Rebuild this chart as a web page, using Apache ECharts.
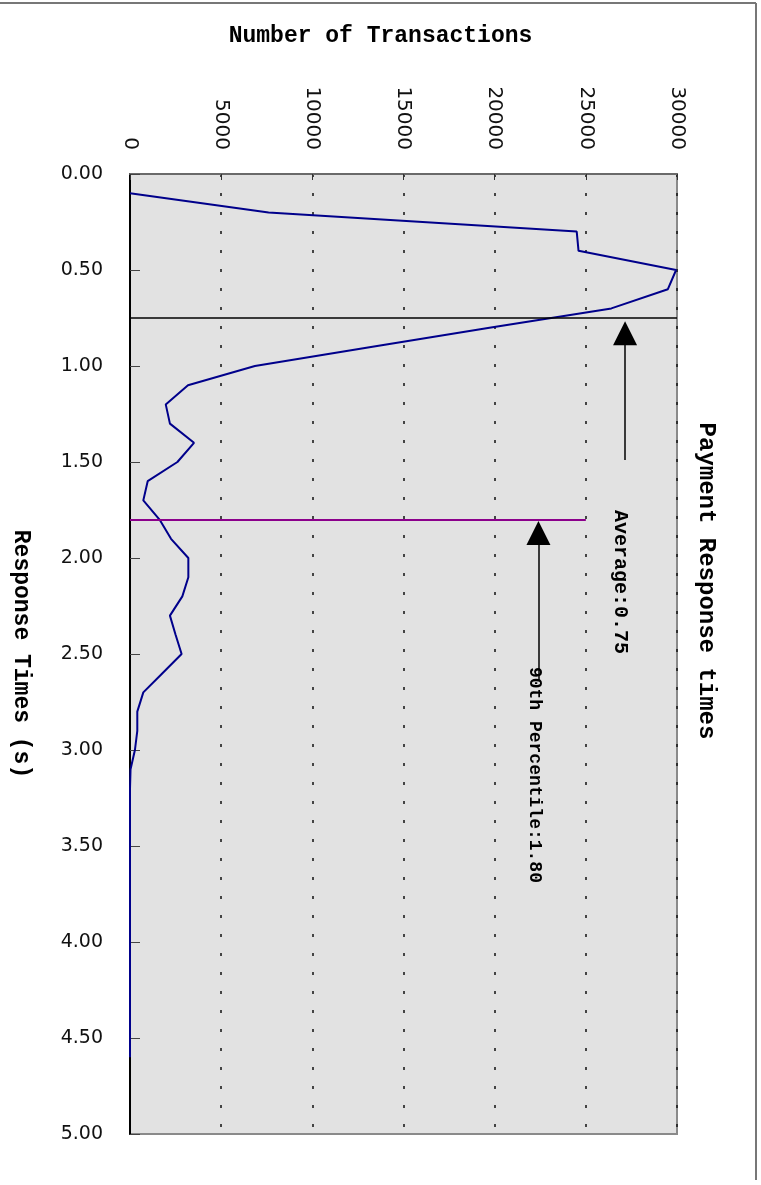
<!DOCTYPE html>
<html>
<head>
<meta charset="utf-8">
<script src="https://cdn.jsdelivr.net/npm/echarts@6/dist/echarts.min.js"></script>
<style>
html,body{margin:0;padding:0;background:#fff;}
#chart{width:761px;height:1185px;}
</style>
</head>
<body>
<div id="chart"></div>
<script>
// Response time buckets (s)
const responseTimes = [0.1,0.2,0.3,0.4,0.5,0.6,0.7,0.8,0.9,1.0,
  1.1,1.2,1.3,1.4,1.5,1.6,1.7,1.8,1.9,2.0,
  2.1,2.2,2.3,2.4,2.5,2.6,2.7,2.8,2.9,3.0,
  3.1,3.2,3.3,3.4,3.5,3.6,3.7,3.8,3.9,4.0,
  4.1,4.2,4.3,4.4,4.5,4.6];
// Number of transactions per bucket
const transactions = [0,7600,24500,24600,29950,29500,26400,19800,13300,6850,
  3180,1960,2190,3510,2600,970,730,1620,2250,3200,
  3200,2870,2190,2500,2830,1780,730,400,400,270,
  30,0,0,0,0,0,0,0,0,0,
  0,0,0,0,0,0];
const averageTime = 0.75;
const percentile90 = 1.80;
const xTicks = [0,5000,10000,15000,20000,25000,30000];
const yTicks = [0,0.5,1,1.5,2,2.5,3,3.5,4,4.5,5];

const chart = echarts.init(document.getElementById('chart'), null, {renderer:'canvas'});
const seriesData = responseTimes.map((t,i)=>[transactions[i], t]);
const mono = '"Liberation Mono", "Courier New", monospace';
const sans = '"DejaVu Sans", sans-serif';

const option = {
  backgroundColor:'#ffffff',
  animation:false,
  grid:{left:130, right:84, top:174, bottom:51, show:true, backgroundColor:'#e2e2e2', borderColor:'#8a8a8a', borderWidth:2},
  xAxis:{
    type:'value', position:'top', min:xTicks[0], max:xTicks[xTicks.length-1], interval:5000,
    name:'Number of Transactions', nameLocation:'middle', nameGap:126,
    nameTextStyle:{fontFamily:mono, fontWeight:'bold', fontSize:23, color:'#000', padding:[0,46,0,0]},
    axisLine:{show:true, lineStyle:{color:'#6a6a6a', width:2}},
    axisTick:{show:true, inside:true, length:6, lineStyle:{color:'#333'}},
    axisLabel:{rotate:-90, margin:24, fontFamily:sans, fontSize:20, color:'#111', formatter:v=>String(v)},
    splitLine:{show:true, lineStyle:{color:'#111', type:[3,16], width:1.5}}
  },
  yAxis:{
    type:'value', inverse:true, min:yTicks[0], max:yTicks[yTicks.length-1], interval:0.5,
    name:'Response Times (s)', nameLocation:'middle', nameGap:98, nameRotate:-90,
    nameTextStyle:{fontFamily:mono, fontWeight:'bold', fontSize:23, color:'#000', padding:[0,0,0,0]},
    axisLine:{show:true, lineStyle:{color:'#000', width:2}},
    axisTick:{show:true, inside:true, length:10, lineStyle:{color:'#444'}},
    axisLabel:{margin:27, fontFamily:sans, fontSize:19, color:'#111', formatter:v=>v.toFixed(2)},
    splitLine:{show:false}
  },
  series:[
    {
      type:'line', data:seriesData, symbol:'none', z:3,
      lineStyle:{color:'#00008b', width:2},
      markLine:{
        silent:true, symbol:'none', animation:false,
        label:{show:false},
        lineStyle:{type:'solid'},
        data:[
          [{coord:[0, averageTime], lineStyle:{color:'#000', width:1.5, type:'solid'}}, {coord:[30000, averageTime]}],
          [{coord:[0, percentile90], lineStyle:{color:'#8b008b', width:2, type:'solid'}}, {coord:[25000, percentile90]}]
        ]
      },
      markPoint:{
        silent:true, symbol:'circle', symbolSize:1, itemStyle:{color:'rgba(0,0,0,0)'},
        label:{show:true, position:'inside', rotate:-90, fontFamily:mono, fontWeight:'bold', color:'#000'},
        data:[
          {coord:[26874, 2.125], label:{fontSize:20, formatter:'Average:' + averageTime.toFixed(2)}},
          {coord:[22212, 3.13], label:{fontSize:18, formatter:'90th Percentile:' + percentile90.toFixed(2)}}
        ]
      }
    },
    {
      type:'line', data:[], z:4,
      markLine:{
        silent:true, animation:false, symbol:['none','triangle'], symbolSize:24,
        label:{show:false},
        itemStyle:{color:'#000'},
        lineStyle:{color:'#000', width:1.5, type:'solid'},
        data:[
          [{coord:[27150, 1.49], symbol:'none'}, {coord:[27150, 0.83], symbol:'triangle', symbolSize:24}],
          [{coord:[22400, 2.635], symbol:'none'}, {coord:[22400, 1.87], symbol:'triangle', symbolSize:24}]
        ]
      }
    }
  ],
  graphic:[
    {type:'line', shape:{x1:0,y1:3,x2:756,y2:3}, style:{stroke:'#777', lineWidth:2}},
    {type:'line', shape:{x1:756,y1:3,x2:756,y2:1180}, style:{stroke:'#777', lineWidth:2}},
    {type:'text', x:706, y:581, rotation:-Math.PI/2,
     style:{text:'Payment Response times', font:'bold 24px ' + mono, fill:'#000', textAlign:'center', textVerticalAlign:'middle'}}
  ]
};
chart.setOption(option);
</script>
</body>
</html>
